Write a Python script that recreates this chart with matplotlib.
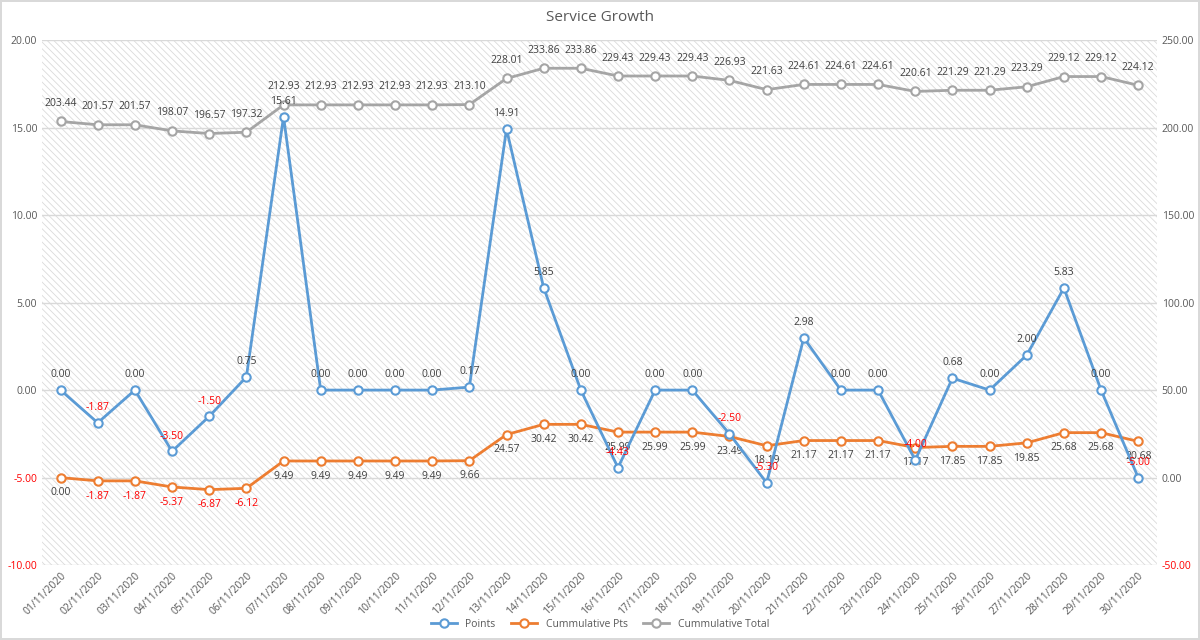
import matplotlib
matplotlib.use("Agg")
import matplotlib.pyplot as plt
from matplotlib.patches import Rectangle
from matplotlib.ticker import FuncFormatter

dates = ["%02d/11/2020" % d for d in range(1, 31)]
points = [0.00, -1.87, 0.00, -3.50, -1.50, 0.75, 15.61, 0.00, 0.00, 0.00,
          0.00, 0.17, 14.91, 5.85, 0.00, -4.43, 0.00, 0.00, -2.50, -5.30,
          2.98, 0.00, 0.00, -4.00, 0.68, 0.00, 2.00, 5.83, 0.00, -5.00]
cum_pts = [0.00, -1.87, -1.87, -5.37, -6.87, -6.12, 9.49, 9.49, 9.49, 9.49,
           9.49, 9.66, 24.57, 30.42, 30.42, 25.99, 25.99, 25.99, 23.49, 18.19,
           21.17, 21.17, 21.17, 17.17, 17.85, 17.85, 19.85, 25.68, 25.68, 20.68]
cum_total = [203.44, 201.57, 201.57, 198.07, 196.57, 197.32, 212.93, 212.93, 212.93, 212.93,
             212.93, 213.10, 228.01, 233.86, 233.86, 229.43, 229.43, 229.43, 226.93, 221.63,
             224.61, 224.61, 224.61, 220.61, 221.29, 221.29, 223.29, 229.12, 229.12, 224.12]

BLUE = "#5B9BD5"
ORANGE = "#ED7D31"
GRAY = "#A5A5A5"
TXT = "#404040"
RED = "#FF0000"
plt.rcParams["font.family"] = ["Open Sans", "DejaVu Sans"]
plt.rcParams["hatch.color"] = "#DADADA"
plt.rcParams["hatch.linewidth"] = 0.6

fig = plt.figure(figsize=(12, 6.4), dpi=100)
fig.patch.set_edgecolor("#D9D9D9")
fig.patch.set_linewidth(1.5)
ax = fig.add_axes([0.035, 0.117, 0.929, 0.8205])
ax2 = ax.twinx()

x = list(range(len(dates)))
ax.set_xlim(-0.5, len(dates) - 0.5)
ax.set_ylim(-10, 20)
ax2.set_ylim(-50, 250)
ax.set_yticks([-10, -5, 0, 5, 10, 15, 20])
ax2.set_yticks([-50, 0, 50, 100, 150, 200, 250])

# z-order: ax2 (hatch, grid, cumulative lines) below ax (points)
ax.set_zorder(2)
ax.patch.set_visible(False)
ax2.set_zorder(1)
ax2.add_patch(Rectangle((0, 0), 1, 1, transform=ax2.transAxes, facecolor="white",
                        hatch="\\\\\\\\\\", edgecolor="#DADADA", linewidth=0, zorder=0))
ax2.grid(axis="y", color="#D9D9D9", linewidth=1, zorder=1)
ax2.set_axisbelow(True)
for a in (ax, ax2):
    for s in a.spines.values():
        s.set_visible(False)
    a.tick_params(length=0, labelsize=7.5, colors="#595959")

fmt = FuncFormatter(lambda v, p: "%.2f" % v)
ax.yaxis.set_major_formatter(fmt)
ax2.yaxis.set_major_formatter(fmt)
fig.canvas.draw()
for lab in ax.get_yticklabels():
    if lab.get_text().startswith("-"):
        lab.set_color(RED)
for lab in ax2.get_yticklabels():
    if lab.get_text().startswith("-"):
        lab.set_color(RED)

ax.set_xticks(x)
ax.set_xticklabels(dates, rotation=45, ha="right", rotation_mode="anchor", fontsize=7.5, color="#595959")

mk = dict(marker="o", markersize=6, markerfacecolor="white", markeredgewidth=1.5, linewidth=2)
l3, = ax2.plot(x, cum_total, color=GRAY, markeredgecolor=GRAY, label="Cummulative Total", zorder=3, **mk)
l2, = ax2.plot(x, cum_pts, color=ORANGE, markeredgecolor=ORANGE, label="Cummulative Pts", zorder=3, **mk)
l1, = ax.plot(x, points, color=BLUE, markeredgecolor=BLUE, label="Points", zorder=5, **mk)

lblkw = dict(fontsize=7.5, ha="center", textcoords="offset points")
for xi, v in zip(x, cum_total):
    ax2.annotate("%.2f" % v, (xi, v), xytext=(0, 9), va="bottom", color=TXT, zorder=4, **lblkw)
for xi, v in zip(x, cum_pts):
    ax2.annotate("%.2f" % v, (xi, v), xytext=(0, -7), va="top",
                 color=RED if v < 0 else TXT, zorder=4, **lblkw)
for xi, v in zip(x, points):
    ax.annotate("%.2f" % v, (xi, v), xytext=(0, 7), va="bottom",
                color=RED if v < 0 else TXT, zorder=6, **lblkw)

fig.text(0.5, 0.972, "Service Growth", ha="center", va="center", fontsize=11, color="#595959")
fig.legend(handles=[l1, l2, l3], loc="center", bbox_to_anchor=(0.5, 0.024), ncol=3,
           frameon=False, fontsize=7.5, labelcolor="#595959", handlelength=2.5, columnspacing=1.5)

fig.savefig("out.png", dpi=100)
